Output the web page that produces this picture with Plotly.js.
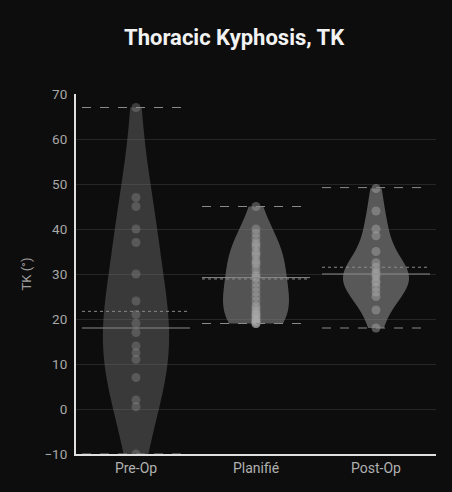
<!DOCTYPE html>
<html>
<head>
<meta charset="utf-8">
<script src="https://cdn.plot.ly/plotly-3.0.1.min.js"></script>
<style>html,body{margin:0;padding:0;background:#0d0d0d;}#chart{width:452px;height:492px;}</style>
</head>
<body>
<div id="chart"></div>
<script>
const categories = ["Pre-Op", "Planifié", "Post-Op"];
const preOp = [67, 47, 45, 40, 37, 30, 24, 21, 19, 17, 14, 12.5, 11, 7, 2, 0.5, -10];
const planifie = [19, 19, 19, 19.5, 19.5, 20, 20, 20.5, 21, 21, 21.5, 22, 22.5, 23, 24, 25, 26, 27, 28, 29, 29.5, 30, 31, 32, 32.5, 33, 34, 34.5, 35, 36, 36.5, 37, 38, 39, 40, 45];
const postOp = [49, 44, 40, 38.5, 35, 32.5, 31.5, 30.5, 30, 29.5, 28.5, 28, 27, 26, 25, 22, 18];
const statMax = [67, 45, 49.2];
const statMean = [21.7, 28.9, 31.5];
const statMedian = [18, 29.2, 30];
const statMin = [-10, 19, 18];
const yTicks = [-10, 0, 10, 20, 30, 40, 50, 60, 70];

const series = [preOp, planifie, postOp];
const fills = ["rgba(128,128,128,0.38)", "rgba(128,128,128,0.62)", "rgba(128,128,128,0.66)"];
const pointColors = ["rgba(150,150,150,0.35)", "rgba(170,170,170,0.4)", "rgba(170,170,170,0.45)"];
const bandwidths = [12.5, 5.5, undefined];

const traces = series.map((vals, i) => {
  const t = {
    type: "violin",
    name: categories[i],
    x: vals.map(() => categories[i]),
    y: vals,
    width: 0.55,
    spanmode: "hard",
    points: "all",
    jitter: 0,
    pointpos: 0,
    fillcolor: fills[i],
    line: {color: "rgba(0,0,0,0)", width: 0},
    marker: {color: pointColors[i], size: 9},
    box: {visible: false},
    meanline: {visible: false},
    hoverinfo: "skip",
    showlegend: false
  };
  if (bandwidths[i] !== undefined) t.bandwidth = bandwidths[i];
  return t;
});

const shapes = [];
function addLine(vals, dash, color) {
  vals.forEach((v, i) => {
    shapes.push({
      type: "line", xref: "x", yref: "y",
      x0: i - 0.45, x1: i + 0.45, y0: v, y1: v,
      line: {color: color, width: 1, dash: dash}
    });
  });
}
addLine(statMax, "dash", "#8a8a8a");
addLine(statMin, "dash", "#8a8a8a");
addLine(statMean, "dot", "#8a8a8a");
addLine(statMedian, "solid", "#8a8a8a");

const layout = {
  width: 452, height: 492,
  paper_bgcolor: "#0d0d0d",
  plot_bgcolor: "#0d0d0d",
  margin: {l: 76, r: 16, t: 94, b: 38},
  title: {text: "<b>Thoracic Kyphosis, TK</b>", x: 0.518, xanchor: "center", y: 0.925, yanchor: "middle",
          font: {family: "Roboto", size: 22, color: "#f2f2f2"}},
  font: {family: "Roboto", color: "#aaaaaa"},
  showlegend: false,
  xaxis: {
    type: "category",
    categoryorder: "array", categoryarray: categories,
    range: [-0.5, 2.5],
    showgrid: false, zeroline: false,
    showline: true, linecolor: "#e0e0e0", linewidth: 2,
    ticks: "", tickfont: {size: 14, color: "#b0b0b0"}
  },
  yaxis: {
    range: [-10, 70],
    tickvals: yTicks,
    showgrid: true, gridcolor: "#262626", gridwidth: 1,
    zeroline: false,
    showline: true, linecolor: "#e0e0e0", linewidth: 2,
    ticks: "", ticklabelstandoff: 4, tickfont: {size: 13.5, color: "#a8a8a8"},
    title: {text: "TK (°)", font: {size: 13, color: "#a0a0a0"}, standoff: 10}
  },
  shapes: shapes
};

Plotly.newPlot("chart", traces, layout, {staticPlot: true, displayModeBar: false});
</script>
</body>
</html>
